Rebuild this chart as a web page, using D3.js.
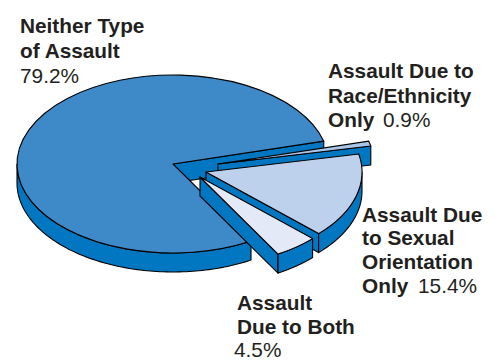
<!DOCTYPE html>
<html><head><meta charset="utf-8">
<script src="https://cdn.jsdelivr.net/npm/d3@7"></script>
<style>html,body{margin:0;padding:0;background:#fff}svg{display:block}
text{font-family:"Liberation Sans",Arial,sans-serif;fill:#231f20}</style></head>
<body><svg id="c" width="503" height="362"></svg>
<script>
const categories = ["Neither Type of Assault","Assault Due to Race/Ethnicity Only","Assault Due to Sexual Orientation Only","Assault Due to Both"];
const values = [79.2,0.9,15.4,4.5];
const topColors = ["#3e8ac8","#a9c5e9","#bdd0ec","#e3e9f6"];
const sideColor = "#0077c0";
const apexX = [173,218,206,200];
const apexY = [164,164,172,177];
const rx=156, ry=89, depth=19, startDeg=150;

const svg=d3.select("#c");
const pie=d3.pie().sort(null).startAngle(startDeg*Math.PI/180).endAngle((startDeg+360)*Math.PI/180);
const arcs=pie(values);
const arc=d3.arc().innerRadius(0).outerRadius(rx);
const px=a=>rx*Math.sin(a), py=a=>-ry*Math.cos(a);
const line=d3.line();

arcs.forEach((d,i)=>{
  const g=svg.append("g").attr("transform",`translate(${apexX[i]},${apexY[i]})`);
  const turn=i>0?2*Math.PI:0;
  const a0=d.startAngle-turn,a1=d.endAngle-turn;
  g.append("path").attr("d",line([[0,0],[px(a1),py(a1)],[px(a1),py(a1)+depth],[0,depth]])+"Z")
    .attr("fill",sideColor).attr("stroke","#000").attr("stroke-width",1.1).attr("stroke-linejoin","round");
  const lo=Math.max(a0,Math.PI/2), hi=Math.min(a1,Math.PI*1.5);
  if(hi>lo){
    const ang=d3.range(0,101).map(k=>lo+(hi-lo)*k/100);
    const pts=ang.map(a=>[px(a),py(a)]).concat(ang.slice().reverse().map(a=>[px(a),py(a)+depth]));
    g.append("path").attr("d",line(pts)+"Z").attr("fill",sideColor).attr("stroke","#000")
      .attr("stroke-width",1.1).attr("stroke-linejoin","round");
  }
  g.append("path").attr("d",arc(d)).attr("transform",`scale(1,${ry/rx})`)
    .attr("fill",topColors[i]).attr("stroke","#000").attr("stroke-width",1.1)
    .attr("stroke-linejoin","round").style("vector-effect","non-scaling-stroke");
});

const labels=[
 ["Neither Type",20,33,"bold"],["of Assault",20,58,"bold"],["79.2%",20,83,"normal"],
 ["Assault Due to",328,78,"bold"],["Race/Ethnicity",328,103,"bold"],["Only",328,127,"bold"],["0.9%",383,127,"normal"],
 ["Assault Due",362,222,"bold"],["to Sexual",362,245,"bold"],["Orientation",362,269,"bold"],["Only",362,293,"bold"],["15.4%",418,293,"normal"],
 ["Assault",237,310,"bold"],["Due to Both",237,334,"bold"],["4.5%",234,357,"normal"]
];
svg.append("g").selectAll("text").data(labels).join("text")
  .attr("x",d=>d[1]).attr("y",d=>d[2]).attr("font-size",20.8)
  .attr("font-weight",d=>d[3]).text(d=>d[0]);
</script></body></html>
